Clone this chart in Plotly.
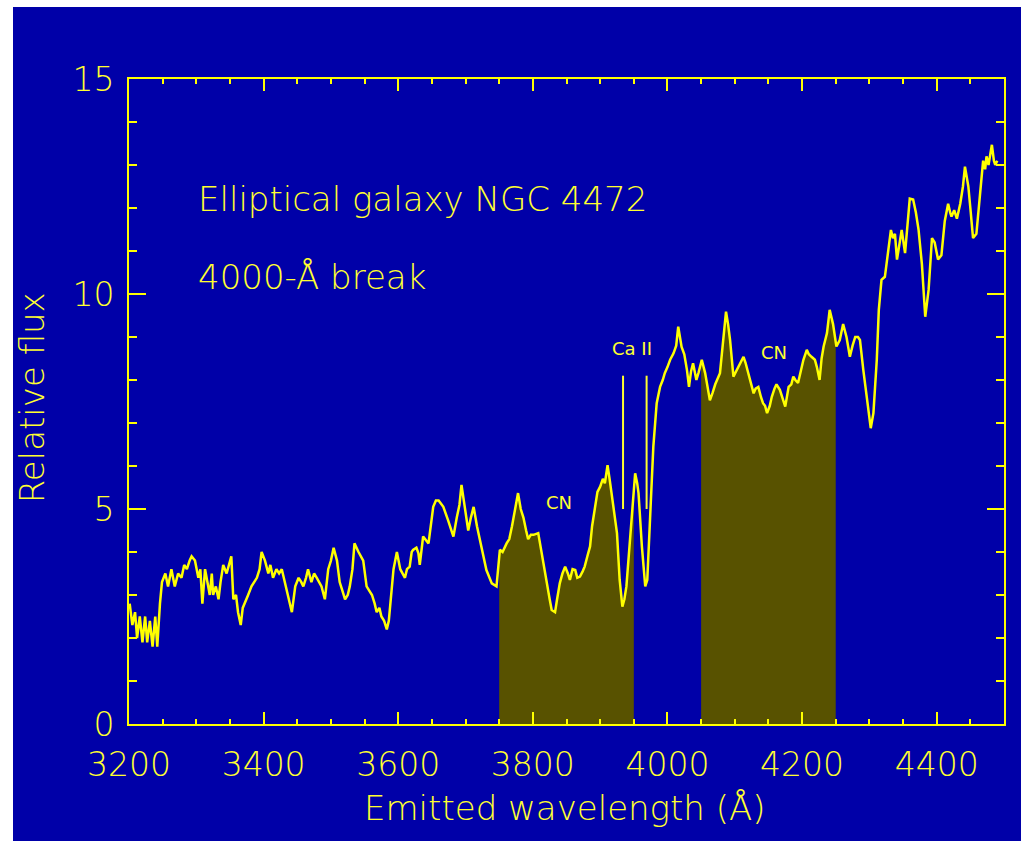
import plotly.graph_objects as go
import numpy as np

# ---- data ----
wavelength = [
    3201, 3205, 3209, 3212, 3216, 3220, 3224, 3227, 3231, 3235, 3239, 3242, 3246, 3249,
    3254, 3258, 3263, 3268, 3273, 3278, 3282, 3286, 3290, 3293, 3298, 3303, 3306, 3309,
    3313, 3316, 3320, 3323, 3325, 3329, 3333, 3336, 3340, 3345, 3349, 3352, 3355, 3359,
    3362, 3366, 3369, 3372, 3377, 3382, 3386, 3390, 3394, 3397, 3402, 3407, 3410, 3414,
    3419, 3423, 3427, 3430, 3434, 3438, 3442, 3447, 3452, 3456, 3459, 3463, 3466, 3471,
    3475, 3479, 3483, 3486, 3491, 3496, 3500, 3504, 3509, 3513, 3517, 3521, 3525, 3528,
    3532, 3535, 3541, 3548, 3553, 3557, 3561, 3565, 3568, 3572, 3575, 3579, 3583, 3586,
    3588, 3593, 3598, 3603, 3610, 3613, 3617, 3620, 3622, 3627, 3630, 3632, 3637, 3645,
    3652, 3656, 3660, 3667, 3674, 3682, 3687, 3691, 3694, 3699, 3704, 3708, 3712, 3717,
    3724, 3731, 3739, 3746, 3751, 3755, 3761, 3765, 3769, 3774, 3778, 3782, 3786, 3790,
    3793, 3797, 3801, 3808, 3813, 3817, 3821, 3825, 3828, 3833, 3836, 3840, 3844, 3848,
    3852, 3855, 3859, 3863, 3866, 3870, 3874, 3877, 3881, 3885, 3888, 3892, 3896, 3900,
    3904, 3907, 3911, 3914, 3917, 3921, 3925, 3929, 3933, 3936, 3939, 3943, 3946, 3949,
    3952, 3955, 3957, 3962, 3965, 3967, 3970, 3974, 3979, 3984, 3989, 3993, 3996, 4000,
    4004, 4009, 4013, 4016, 4021, 4025, 4029, 4032, 4035, 4038, 4043, 4046, 4051, 4056,
    4060, 4063, 4067, 4071, 4078, 4083, 4087, 4090, 4093, 4098, 4102, 4105, 4109, 4113,
    4116, 4120, 4124, 4128, 4131, 4135, 4139, 4142, 4145, 4148, 4152, 4155, 4159, 4162,
    4167, 4171, 4175, 4180, 4184, 4187, 4190, 4194, 4198, 4202, 4207, 4210, 4214, 4219,
    4222, 4226, 4229, 4232, 4237, 4241, 4246, 4251, 4256, 4261, 4266, 4271, 4275, 4279,
    4283, 4286, 4291, 4296, 4300, 4302, 4306, 4311, 4314, 4318, 4323, 4328, 4332, 4335,
    4338, 4341, 4345, 4348, 4353, 4356, 4360, 4365, 4369, 4373, 4378, 4383, 4388, 4393,
    4397, 4402, 4407, 4412, 4417, 4420, 4422, 4426, 4430, 4435, 4439, 4442, 4447, 4450,
    4454, 4459, 4464, 4469, 4472, 4474, 4477, 4482, 4485, 4487, 4490,
]
flux = [
    2.8, 2.3, 2.6, 2.0, 2.5, 1.9, 2.5, 1.9, 2.4, 1.8, 2.5, 1.8, 2.8, 3.3,
    3.5, 3.2, 3.6, 3.2, 3.5, 3.4, 3.7, 3.6, 3.8, 3.9, 3.8, 3.4, 3.6, 2.8,
    3.6, 3.3, 3.0, 3.5, 3.0, 3.2, 2.9, 3.3, 3.7, 3.5, 3.7, 3.9, 2.9, 3.0,
    2.6, 2.3, 2.7, 2.8, 3.0, 3.2, 3.3, 3.4, 3.6, 4.0, 3.8, 3.5, 3.7, 3.4,
    3.6, 3.5, 3.6, 3.4, 3.2, 2.9, 2.6, 3.2, 3.4, 3.3, 3.2, 3.4, 3.6, 3.3,
    3.5, 3.4, 3.3, 3.2, 2.9, 3.6, 3.8, 4.1, 3.8, 3.3, 3.1, 2.9, 3.0, 3.2,
    3.6, 4.2, 4.0, 3.8, 3.2, 3.1, 3.0, 2.8, 2.6, 2.7, 2.5, 2.4, 2.2, 2.4,
    2.7, 3.6, 4.0, 3.6, 3.4, 3.6, 3.66, 4.0, 4.05, 4.1, 3.97, 3.7, 4.36, 4.2,
    5.05, 5.2, 5.2, 5.05, 4.74, 4.36, 4.8, 5.1, 5.56, 5.05, 4.5, 4.8, 5.05, 4.6,
    4.05, 3.58, 3.27, 3.2, 4.05, 4.0, 4.2, 4.3, 4.6, 5.0, 5.37, 5.0, 4.8, 4.5,
    4.3, 4.4, 4.4, 4.44, 3.97, 3.6, 3.2, 2.9, 2.65, 2.6, 2.9, 3.27, 3.5, 3.66,
    3.5, 3.35, 3.6, 3.58, 3.4, 3.43, 3.55, 3.66, 3.9, 4.13, 4.6, 5.05, 5.4, 5.52,
    5.7, 5.6, 6.02, 5.7, 5.4, 4.9, 4.44, 3.35, 2.73, 2.9, 3.2, 4.0, 4.74, 5.4,
    5.83, 5.6, 5.37, 4.13, 3.6, 3.2, 3.35, 4.74, 6.45, 7.46, 7.84, 8.0, 8.16, 8.3,
    8.47, 8.62, 8.8, 9.24, 8.77, 8.6, 8.23, 7.84, 8.2, 8.39, 8.0, 8.16, 8.47, 8.16,
    7.8, 7.53, 7.7, 7.9, 8.16, 9.0, 9.59, 9.3, 8.93, 8.08, 8.2, 8.3, 8.4, 8.54,
    8.4, 8.16, 7.9, 7.69, 7.8, 7.84, 7.6, 7.46, 7.4, 7.23, 7.4, 7.61, 7.8, 7.9,
    7.77, 7.6, 7.38, 7.84, 7.9, 8.08, 8.0, 7.93, 8.2, 8.47, 8.7, 8.6, 8.54, 8.47,
    8.3, 8.0, 8.5, 8.78, 9.09, 9.63, 9.3, 8.78, 8.93, 9.3, 9.0, 8.54, 8.8, 9.0,
    9.0, 8.93, 8.23, 7.61, 7.1, 6.88, 7.23, 8.47, 9.63, 10.33, 10.4, 10.95, 11.49, 11.3,
    11.4, 10.8, 11.2, 11.49, 10.95, 11.5, 12.22, 12.2, 11.9, 11.5, 10.7, 9.47, 10.1, 11.3,
    11.2, 10.8, 10.9, 11.7, 12.1, 11.9, 11.8, 11.95, 11.75, 12.1, 12.5, 12.96, 12.5, 12.0,
    11.3, 11.4, 12.2, 13.1, 12.9, 13.2, 13.0, 13.47, 13.1, 13.0, 13.1,
]

cn_bands = [(3750, 3950), (4050, 4250)]
ca_lines = [3934, 3969]
ca_range = [5.0, 8.1]

x_ticks = [3200, 3400, 3600, 3800, 4000, 4200, 4400]
y_ticks = [0, 5, 10, 15]

labels = [
    ("Ca II", 3947, 8.74),
    ("CN", 3839, 5.14),
    ("CN", 4158, 8.63),
]
title1 = "Elliptical galaxy NGC 4472"
title2 = "4000-Å break"

# ---- style ----
BLUE = "#0000A8"
YELLOW = "#FFFF00"
TXT = "#FFFF30"
OLIVE = "rgb(88,82,0)"
FONT = "DejaVu Sans"

wl = np.array(wavelength, dtype=float)
fl = np.array(flux, dtype=float)

fig = go.Figure()

# shaded CN bands (filled under spectrum)
for lo, hi in cn_bands:
    m = (wl > lo) & (wl < hi)
    bx = np.concatenate([[lo], wl[m], [hi]])
    by = np.concatenate([[np.interp(lo, wl, fl)], fl[m], [np.interp(hi, wl, fl)]])
    fig.add_trace(go.Scatter(x=bx, y=by, mode="lines", fill="tozeroy",
                             fillcolor=OLIVE, line=dict(width=0, color=OLIVE),
                             hoverinfo="skip", showlegend=False))

# spectrum
fig.add_trace(go.Scatter(x=wavelength, y=flux, mode="lines",
                         line=dict(color=YELLOW, width=2.5), showlegend=False))

# Ca II markers
cx, cy = [], []
for w in ca_lines:
    cx += [w, w, None]
    cy += [ca_range[0], ca_range[1], None]
fig.add_trace(go.Scatter(x=cx, y=cy, mode="lines",
                         line=dict(color=TXT, width=2), showlegend=False))


def f(size, weight=200):
    return dict(family=FONT, size=size, color=TXT, weight=weight)


annotations = []
for txt, xx, yy in labels:
    annotations.append(dict(x=xx, y=yy, xref="x", yref="y", text=txt, showarrow=False,
                            font=f(18, 400), xanchor="center", yanchor="middle"))
annotations.append(dict(x=3300, y=12.2, xref="x", yref="y", text=title1, showarrow=False,
                        font=f(34), xanchor="left", yanchor="middle"))
annotations.append(dict(x=3300, y=10.4, xref="x", yref="y", text=title2, showarrow=False,
                        font=f(34), xanchor="left", yanchor="middle"))
# axis titles
annotations.append(dict(x=0.498, y=0, xref="paper", yref="paper", yshift=-84,
                        text="Emitted wavelength (Å)", showarrow=False,
                        font=f(34), xanchor="center", yanchor="middle"))
annotations.append(dict(x=0, y=0.505, xref="paper", yref="paper", xshift=-97,
                        text="Relative flux", showarrow=False, textangle=-90,
                        font=f(34), xanchor="center", yanchor="middle"))

axis_common = dict(showgrid=False, zeroline=False, showline=True, linecolor=YELLOW,
                   linewidth=2, mirror="ticks", ticks="inside", tickcolor=YELLOW,
                   tickwidth=2, tickfont=f(33))

fig.update_layout(
    width=1021, height=841,
    margin=dict(l=129, r=17, t=79, b=117),
    paper_bgcolor=BLUE, plot_bgcolor=BLUE,
    xaxis=dict(range=[3200, 4500], tickvals=x_ticks, ticklen=12,
               minor=dict(dtick=50, tick0=3200, ticklen=5, ticks="inside",
                          tickcolor=YELLOW, tickwidth=2),
               ticklabelstandoff=10, **axis_common),
    yaxis=dict(range=[0, 15], tickvals=y_ticks, ticklen=17,
               minor=dict(dtick=1, tick0=0, ticklen=8, ticks="inside",
                          tickcolor=YELLOW, tickwidth=2),
               ticklabelstandoff=6, **axis_common),
    annotations=annotations,
    shapes=[
        dict(type="rect", xref="paper", yref="paper",
             x0=-0.2, x1=(13 - 129) / 875, y0=-0.3, y1=1.2,
             fillcolor="white", line=dict(width=0), layer="above"),
        dict(type="rect", xref="paper", yref="paper",
             x0=-0.2, x1=1.1, y0=(724 - 7) / 645, y1=1.2,
             fillcolor="white", line=dict(width=0), layer="above"),
    ],
)

fig.write_html("out.html")
